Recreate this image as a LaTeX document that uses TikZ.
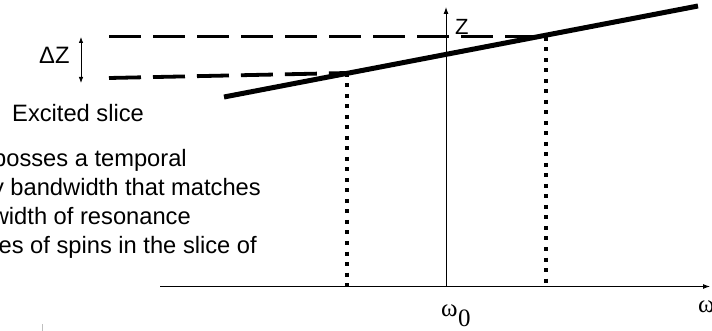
\documentclass[tikz,border=0pt]{standalone}
\usepackage{fontspec}
\setmainfont{Liberation Sans}
\newfontfamily\serifgr{Liberation Serif}
\usetikzlibrary{arrows.meta}
\begin{document}
\begin{tikzpicture}[x=1pt,y=-1pt,
  thickline/.style={line width=5pt},
  dashline/.style={line width=3.8pt, dash pattern=on 32pt off 12pt},
  dotline/.style={line width=4pt, dash pattern=on 4pt off 6.5pt},
  axisline/.style={line width=0.9pt, -{Latex[length=7pt,width=5pt]}},
  txt/.style={inner sep=0pt, font=\fontsize{23.7}{28}\selectfont},
  greek/.style={inner sep=0pt, font=\serifgr\fontsize{25}{30}\selectfont}]
\useasboundingbox (0,0) rectangle (712,331);
\fill[white] (0,0) rectangle (712,331);
\clip (0,0) rectangle (712,331);
% coordinates
\coordinate (o) at (446,286.5);
\coordinate (xend) at (710,286.5);
\coordinate (xstart) at (160,286.5);
\coordinate (yend) at (446,7);
\coordinate (tl0) at (224,97);
\coordinate (tl1) at (698,6);
\coordinate (pL) at (347,73);
\coordinate (pR) at (545,36.5);
\coordinate (dT0) at (109,36.5);
\coordinate (dL0) at (109,78);
\coordinate (bL) at (347,286.5);
\coordinate (bR) at (546,286.5);
\coordinate (pRd) at (546,37);
\coordinate (a0) at (81,37);
\coordinate (a1) at (81,83);
\coordinate (t0) at (42,324);
\coordinate (t1) at (42,331);
% axes
\draw[axisline] (xstart) -- (xend);
\draw[axisline] (o) -- (yend);
% dashed slice limits
\draw[dashline] (dT0) -- (pR);
\draw[dashline] (dL0) -- (pL);
% dotted projections
\draw[dotline] (pL) -- (bL);
\draw[dotline] (pRd) -- (bR);
% gradient line
\draw[thickline] (tl0) -- (tl1);
% delta z arrow
\draw[line width=0.8pt, {Latex[length=6pt,width=4.5pt]}-{Latex[length=6pt,width=4.5pt]}] (a0) -- (a1);
\draw[black!25, line width=0.7pt] (t0) -- (t1);
% labels
\node[txt, anchor=base west] (dz) at (39,64) {ΔZ};
\node[inner sep=0pt, font=\fontsize{22}{26}\selectfont, anchor=base west] (zl) at (455,35) {Z};
\node[txt, anchor=base west] (ex) at (12,122) {Excited slice};
\node[txt, anchor=base east] (l1) at (187,167) {posses a temporal};
\node[txt, anchor=base east] (l2) at (261,196) {y bandwidth that matches};
\node[txt, anchor=base east] (l3) at (191,225) {width of resonance};
\node[txt, anchor=base east] (l4) at (257,254) {es of spins in the slice of};
\node[greek, anchor=base west] (w0) at (441,316) {ω};
\node[inner sep=0pt, font=\serifgr\fontsize{25}{30}\selectfont, anchor=base west] (sub0) at (w0.base east) [yshift=-10pt] {0};
\node[greek, anchor=base west] (w) at (698,312) {ω};
\end{tikzpicture}
\end{document}
